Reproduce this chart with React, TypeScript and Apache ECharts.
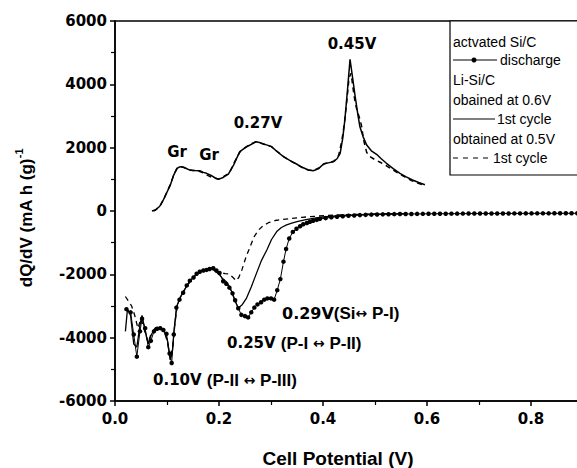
import React, { useEffect, useRef } from "react";
import * as echarts from "echarts";

// activated Si/C, discharge (line with dots)
const sicV = [0.022,0.030,0.036,0.042,0.048,0.052,0.058,0.064,0.069,0.075,0.081,0.087,0.093,0.099,0.105,0.109,0.113,0.118,0.124,0.131,0.138,0.144,0.151,0.157,0.163,0.170,0.176,0.182,0.189,0.195,0.201,0.208,0.214,0.220,0.226,0.231,0.237,0.243,0.250,0.256,0.262,0.268,0.274,0.281,0.287,0.293,0.300,0.306,0.312,0.318,0.324,0.329,0.335,0.342,0.349,0.356,0.362,0.369,0.375,0.381,0.388,0.394,
  0.405,0.416,0.427,0.438,0.449,0.460,0.471,0.482,0.493,0.504,0.515,0.526,0.537,0.548,0.559,0.570,0.581,0.592,0.603,0.614,0.625,0.636,0.647,0.658,0.669,0.680,0.691,0.702,0.713,0.724,0.735,0.746,0.757,0.768,0.779,0.790,0.801,0.812,0.823,0.834,0.845,0.856,0.867,0.878,0.889,0.900];
const sicQ = [-3100,-3200,-3900,-4600,-3800,-3400,-3700,-4300,-4100,-3800,-3720,-3700,-3760,-3880,-4500,-4800,-3900,-3050,-2800,-2580,-2350,-2200,-2100,-1980,-1920,-1880,-1860,-1830,-1810,-1880,-1960,-2220,-2300,-2420,-2600,-2820,-3070,-3280,-3320,-3360,-3200,-3050,-2950,-2880,-2800,-2760,-2760,-2800,-2500,-2150,-1600,-1200,-870,-660,-560,-480,-420,-380,-340,-310,-280,-250,
  -225,-200,-180,-165,-150,-140,-130,-122,-115,-110,-106,-102,-99,-97,-95,-93,-91,-90,-88,-87,-86,-85,-84,-83,-82,-81,-80,-80,-79,-78,-78,-77,-77,-76,-76,-75,-75,-74,-74,-74,-73,-73,-73,-72,-72,-72];

// Li-Si/C obtained at 0.6 V, 1st cycle (solid): charge branch
const c06ChV = [0.071,0.078,0.086,0.093,0.099,0.106,0.112,0.119,0.124,0.128,0.136,0.144,0.153,0.163,0.170,0.176,0.184,0.192,0.199,0.208,0.218,0.228,0.235,0.240,0.248,0.256,0.264,0.271,0.278,0.285,0.293,0.301,0.312,0.324,0.336,0.349,0.360,0.372,0.381,0.391,0.401,0.410,0.420,0.427,0.433,0.438,0.442,0.447,0.452,0.457,0.462,0.467,0.471,0.477,0.484,0.493,0.503,0.512,0.522,0.535,0.548,0.560,0.572,0.584,0.596];
const c06ChQ = [0,30,150,350,560,800,1100,1348,1390,1400,1350,1290,1280,1270,1220,1190,1130,1050,1000,1060,1168,1450,1700,1873,1970,2053,2120,2190,2160,2116,2080,2032,1870,1716,1600,1484,1380,1295,1273,1330,1484,1520,1558,1650,1822,2300,2874,3800,4790,4200,3600,3050,2660,2350,2084,1900,1790,1650,1506,1340,1190,1080,980,900,830];
// discharge branch
const c06DisV = [0.020,0.024,0.030,0.036,0.042,0.048,0.052,0.058,0.064,0.070,0.077,0.087,0.095,0.101,0.106,0.110,0.114,0.119,0.126,0.135,0.145,0.155,0.165,0.175,0.185,0.193,0.200,0.208,0.215,0.222,0.230,0.237,0.245,0.253,0.262,0.272,0.282,0.292,0.301,0.311,0.320,0.330,0.340,0.350,0.365,0.381,0.400,0.430,0.460,0.500,0.530,0.560];
const c06DisQ = [-3800,-3100,-3300,-4200,-4300,-3600,-3300,-3800,-4200,-3900,-3700,-3680,-3800,-4100,-4700,-4500,-3700,-3000,-2700,-2450,-2200,-2020,-1900,-1860,-1800,-1900,-2000,-2150,-2250,-2450,-2800,-3070,-2950,-2750,-2400,-1970,-1550,-1230,-900,-650,-520,-440,-380,-335,-280,-232,-190,-150,-120,-100,-90,-85];

// Li-Si/C obtained at 0.5 V, 1st cycle (dashed): charge branch
const c05ChV = [0.074,0.080,0.088,0.095,0.101,0.108,0.114,0.120,0.126,0.132,0.140,0.150,0.160,0.170,0.180,0.190,0.199,0.210,0.220,0.230,0.240,0.250,0.260,0.270,0.280,0.290,0.300,0.312,0.324,0.336,0.349,0.360,0.372,0.382,0.392,0.402,0.412,0.422,0.430,0.436,0.441,0.446,0.450,0.454,0.458,0.462,0.466,0.470,0.474,0.478,0.484,0.492,0.500,0.510,0.520,0.532,0.545,0.558,0.570,0.582,0.592];
const c05ChQ = [0,60,200,420,640,900,1180,1360,1390,1380,1320,1280,1265,1200,1110,1040,1010,1100,1200,1550,1860,2000,2110,2180,2150,2090,2040,1880,1720,1590,1480,1370,1290,1280,1360,1490,1530,1580,1750,2200,2750,3500,4200,4350,3850,3400,3150,2950,2700,2250,1850,1700,1620,1540,1450,1320,1190,1070,960,880,820];
// discharge branch
const c05DisV = [0.020,0.026,0.032,0.038,0.044,0.050,0.058,0.064,0.070,0.078,0.087,0.095,0.101,0.106,0.111,0.115,0.120,0.128,0.138,0.148,0.158,0.168,0.178,0.188,0.196,0.204,0.212,0.220,0.227,0.233,0.238,0.244,0.252,0.260,0.268,0.276,0.285,0.295,0.308,0.322,0.337,0.360,0.390,0.420,0.460,0.500,0.530,0.560];
const c05DisQ = [-2700,-2850,-3000,-3300,-3700,-3400,-3850,-4150,-3850,-3700,-3700,-3800,-4150,-4650,-4300,-3600,-2950,-2650,-2380,-2150,-1980,-1880,-1820,-1800,-1900,-1950,-1980,-1990,-2100,-2200,-2100,-1860,-1450,-1120,-800,-600,-460,-370,-300,-270,-240,-200,-160,-130,-110,-95,-88,-82];

const legendLines = ["actvated Si/C", "discharge", "Li-Si/C", "obained at 0.6V", "1st cycle", "obtained at 0.5V", "1st cycle"];

const zip = (xs: number[], ys: number[]) => xs.map((x, i) => [x, ys[i]]);

const BOLD_NUM = { fontFamily: "DejaVu Sans", fontWeight: "bold" as const };
const PAREN = { fontFamily: "Liberation Sans", fontWeight: "bold" as const, fontSize: 17, fill: "#000" };
const ARROW = { fontFamily: "DejaVu Sans", fontWeight: "bold" as const, fontSize: 14, fill: "#000" };

export default function App() {
  const ref = useRef<HTMLDivElement>(null);
  useEffect(() => {
    if (!ref.current) return;
    const chart = echarts.init(ref.current, null, { renderer: "svg" });
    const black = "#000";
    const lgText = (x: number, y: number, t: string) => ({
      type: "text", x, y, z: 101,
      style: { text: t, fill: black, fontFamily: "Liberation Sans", fontSize: 14, verticalAlign: "middle", align: "left" },
    });
    const annC = (x: number, y: number, t: string, size: number) => ({
      type: "text", x, y, z: 100,
      style: { text: t, fill: black, ...BOLD_NUM, fontSize: size, align: "center", verticalAlign: "middle" },
    });
    const annR = (x: number, y: number, v: string, a: string, b: string) => ({
      type: "text", x, y, z: 100,
      style: {
        text: `{n|${v}}{p|${a}}{r|↔}{p|${b}}`,
        fill: black, align: "left", verticalAlign: "middle",
        rich: { n: { ...BOLD_NUM, fontSize: 15, fill: black }, p: PAREN, r: ARROW },
      },
    });
    chart.setOption({
      animation: false,
      backgroundColor: "#fff",
      grid: {
        left: 115, top: 21, width: 520, height: 380, outerBoundsMode: "none", containLabel: false,
        show: true, borderColor: black, borderWidth: 1.5, backgroundColor: "transparent",
      },
      xAxis: {
        type: "value", min: 0, max: 1, interval: 0.2,
        axisLine: { show: true, onZero: false, lineStyle: { color: black, width: 1.5 } },
        axisTick: { show: true, inside: false, length: 5, lineStyle: { color: black, width: 1.5 } },
        minorTick: { show: true, splitNumber: 2, length: 4, lineStyle: { color: black, width: 1.2 } },
        splitLine: { show: false },
        axisLabel: { color: black, ...BOLD_NUM, fontSize: 15, margin: 10, showMaxLabel: false, formatter: (v: number) => v.toFixed(1) },
      },
      yAxis: {
        type: "value", min: -6000, max: 6000, interval: 2000,
        axisLine: { show: true, onZero: false, lineStyle: { color: black, width: 1.5 } },
        axisTick: { show: true, inside: false, length: 5, lineStyle: { color: black, width: 1.5 } },
        minorTick: { show: true, splitNumber: 2, length: 4, lineStyle: { color: black, width: 1.2 } },
        splitLine: { show: false },
        axisLabel: { color: black, ...BOLD_NUM, fontSize: 15, margin: 8, formatter: (v: number) => String(v) },
      },
      series: [
        {
          name: "0.6V charge", type: "line", data: zip(c06ChV, c06ChQ), showSymbol: false,
          lineStyle: { color: black, width: 1.5 }, itemStyle: { color: black }, z: 3,
        },
        {
          name: "0.5V charge", type: "line", data: zip(c05ChV, c05ChQ), showSymbol: false,
          lineStyle: { color: black, width: 1.5, type: [5, 4] }, itemStyle: { color: black }, z: 2,
        },
        {
          name: "0.6V discharge", type: "line", data: zip(c06DisV, c06DisQ), showSymbol: false,
          lineStyle: { color: black, width: 1.3 }, itemStyle: { color: black }, z: 3,
        },
        {
          name: "0.5V discharge", type: "line", data: zip(c05DisV, c05DisQ), showSymbol: false,
          lineStyle: { color: black, width: 1.3, type: [5, 4] }, itemStyle: { color: black }, z: 2,
        },
        {
          name: "activated Si/C discharge", type: "line", data: zip(sicV, sicQ), showSymbol: true,
          symbol: "circle", symbolSize: 4.5,
          lineStyle: { color: black, width: 1 }, itemStyle: { color: black }, z: 4,
        },
      ],
      graphic: [
        // axis names
        {
          type: "text", x: 338, y: 458, z: 100,
          style: { text: "Cell Potential (V)", fill: black, fontFamily: "Liberation Sans", fontWeight: "bold", fontSize: 19, align: "center", verticalAlign: "middle" },
        },
        {
          type: "text", x: 24, y: 218, rotation: Math.PI / 2, z: 100,
          style: {
            text: "{a|dQ/dV (mA h (g)}{b|-1}", fill: black, align: "center", verticalAlign: "middle",
            rich: {
              a: { fontFamily: "Liberation Sans", fontWeight: "bold", fontSize: 17, fill: black, lineHeight: 22, verticalAlign: "bottom" },
              b: { fontFamily: "Liberation Sans", fontWeight: "bold", fontSize: 11, fill: black, lineHeight: 22, verticalAlign: "top" },
            },
          },
        },
        // annotations
        annC(177, 152, "Gr", 15),
        annC(209, 155, "Gr", 15),
        annC(258, 123, "0.27V", 15),
        annC(352, 44, "0.45V", 15),
        {
          type: "text", x: 282, y: 313, z: 100,
          style: {
            text: "{n|0.29V}{p|(Si}{r|↔}{p| P-I)}", fill: black, align: "left", verticalAlign: "middle",
            rich: { n: { ...BOLD_NUM, fontSize: 16, fill: black }, p: PAREN, r: ARROW },
          },
        },
        annR(227, 343, "0.25V ", "(P-I ", " P-II)"),
        annR(153, 380, "0.10V ", "(P-II ", " P-III)"),
        // legend box
        { type: "rect", z: 100, shape: { x: 450, y: 21, width: 200, height: 154 }, style: { fill: "#fff", stroke: black, lineWidth: 1.2 } },
        lgText(453, 42, legendLines[0]),
        { type: "line", z: 101, shape: { x1: 453, y1: 60, x2: 497, y2: 60 }, style: { stroke: black, lineWidth: 1 } },
        { type: "circle", z: 101, shape: { cx: 474, cy: 60, r: 2.5 }, style: { fill: black } },
        lgText(500, 60, legendLines[1]),
        lgText(453, 80, legendLines[2]),
        lgText(453, 100, legendLines[3]),
        { type: "line", z: 101, shape: { x1: 453, y1: 119, x2: 495, y2: 119 }, style: { stroke: black, lineWidth: 1.2 } },
        lgText(497, 119, legendLines[4]),
        lgText(453, 139, legendLines[5]),
        { type: "line", z: 101, shape: { x1: 453, y1: 158, x2: 491, y2: 158 }, style: { stroke: black, lineWidth: 1.2, lineDash: [5, 5] } },
        lgText(493, 158, legendLines[6]),
      ],
    });
    return () => chart.dispose();
  }, []);
  return <div ref={ref} style={{ position: "fixed", left: 0, top: 0, width: 577, height: 468, background: "#fff" }} />;
}
